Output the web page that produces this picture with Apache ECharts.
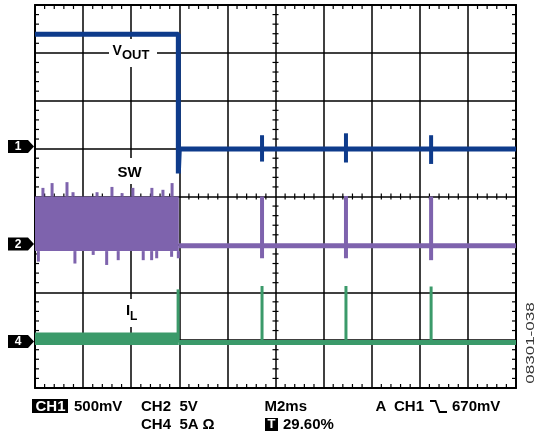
<!DOCTYPE html>
<html><head><meta charset="utf-8">
<script src="https://cdn.jsdelivr.net/npm/echarts@6/dist/echarts.min.js"></script>
<style>html,body{margin:0;padding:0;background:#fff}#c{width:537px;height:442px}</style>
</head><body><div id="c"></div>
<script>
// Horizontal: time in ms (M2ms -> 2 ms/div, 10 divisions). Vertical: screen divisions (8).
const xRange = [0, 20];
const xStep = 2;
const yRange = [0, 8];
const yStep = 1;
const minorPerDiv = 5;

// CH1 : VOUT  [ms, div]
const voutLine = [[0, 7.39], [5.96, 7.39], [5.96, 4.48], [6.00, 4.99], [20, 4.99]];
const voutSpikes = [[9.44, 4.73, 5.28], [12.93, 4.71, 5.32], [16.47, 4.68, 5.28]];

// CH2 : SW
const swBand = [[0, 5.98, 2.86, 4.00]];            // [tStart, tEnd, low, high] switching envelope
const swLine = [[5.98, 2.97], [20, 2.97]];
const swSpikesUp = [[0.33, 4.18], [0.71, 4.28], [1.33, 4.30], [1.58, 4.09], [2.58, 4.09], [3.20, 4.20],
                    [3.62, 4.07], [4.07, 4.18], [4.86, 4.18], [5.32, 4.14], [5.70, 4.28]];
const swSpikesDown = [[0.14, 2.64], [1.66, 2.60], [2.42, 2.78], [2.98, 2.57], [3.46, 2.67], [4.50, 2.67],
                      [4.85, 2.67], [5.06, 2.71], [5.68, 2.74], [5.96, 2.71]];
const swPulses = [[9.44, 2.71, 4.00], [12.93, 2.71, 4.01], [16.47, 2.67, 4.00]];

// CH4 : IL
const ilBand = [[0, 5.96, 0.90, 1.16]];
const ilLine = [[5.96, 0.95], [20, 0.95]];
const ilSpikes = [[5.95, 0.95, 2.06], [9.44, 0.95, 2.13], [12.93, 0.95, 2.13], [16.47, 0.95, 2.12]];

const C_VOUT = '#0e3b8b', C_SW = '#7e63ad', C_IL = '#3b9a6a', INK = '#000';
const FONT = '"Liberation Sans", Arial, sans-serif';

// graticule minor tick positions derived from the axis ranges: [0 = along x, 1 = along y, value]
const minorTicks = [];
(function () {
  const nx = (xRange[1] - xRange[0]) / xStep * minorPerDiv;
  for (let i = 1; i < nx; i++) if (i % minorPerDiv) minorTicks.push([0, xRange[0] + i * xStep / minorPerDiv]);
  const ny = (yRange[1] - yRange[0]) / yStep * minorPerDiv;
  for (let i = 1; i < ny; i++) if (i % minorPerDiv) minorTicks.push([1, yRange[0] + i * yStep / minorPerDiv]);
})();
const xMid = (xRange[0] + xRange[1]) / 2, yMid = (yRange[0] + yRange[1]) / 2;

function tickRender(params, api) {
  const along = api.value(0), v = api.value(1);
  const st = { stroke: INK, lineWidth: 1.2 };
  const L = 4, C = 3;
  if (along === 0) {
    const b = api.coord([v, yRange[0]]), t = api.coord([v, yRange[1]]), m = api.coord([v, yMid]);
    return { type: 'group', children: [
      { type: 'line', shape: { x1: b[0], y1: b[1], x2: b[0], y2: b[1] - L }, style: st },
      { type: 'line', shape: { x1: t[0], y1: t[1], x2: t[0], y2: t[1] + L }, style: st },
      { type: 'line', shape: { x1: m[0], y1: m[1] - C, x2: m[0], y2: m[1] + C }, style: st }
    ] };
  }
  const l = api.coord([xRange[0], v]), r = api.coord([xRange[1], v]), m = api.coord([xMid, v]);
  return { type: 'group', children: [
    { type: 'line', shape: { x1: l[0], y1: l[1], x2: l[0] + L, y2: l[1] }, style: st },
    { type: 'line', shape: { x1: r[0], y1: r[1], x2: r[0] - L, y2: r[1] }, style: st },
    { type: 'line', shape: { x1: m[0] - C, y1: m[1], x2: m[0] + C, y2: m[1] }, style: st }
  ] };
}

function bandRender(color) {
  return function (params, api) {
    const p0 = api.coord([api.value(0), api.value(3)]);
    const p1 = api.coord([api.value(1), api.value(2)]);
    return { type: 'rect', shape: { x: p0[0], y: p0[1], width: p1[0] - p0[0], height: p1[1] - p0[1] }, style: { fill: color } };
  };
}
function spikeRender(w, color) {
  return function (params, api) {
    const t = api.value(0);
    const a = api.coord([t, api.value(1)]);
    const b = api.coord([t, api.value(2)]);
    return { type: 'rect', shape: { x: a[0] - w / 2, y: Math.min(a[1], b[1]), width: w, height: Math.abs(b[1] - a[1]) }, style: { fill: color } };
  };
}
function axisCommon(showLine, split) {
  return {
    axisLine: { show: showLine, onZero: false, lineStyle: { color: INK, width: 2 } },
    axisTick: { show: false },
    axisLabel: { show: false },
    splitLine: { show: split, lineStyle: { color: INK, width: 1.5 } }
  };
}

const GL = 35, GT = 5, GW = 481, GH = 383;

function txt(x, y, s, size, opts) {
  opts = opts || {};
  return { type: 'text', x: x, y: y, z: 100,
    style: { text: s, fill: opts.fill || INK, font: (opts.weight || 'bold') + ' ' + size + 'px ' + FONT,
      align: opts.align || 'left', textAlign: opts.align || 'left', verticalAlign: 'middle', textVerticalAlign: 'middle' } };
}
function rect(x, y, w, h, fill) {
  return { type: 'rect', z: 99, shape: { x: x, y: y, width: w, height: h }, style: { fill: fill } };
}
function marker(cy, label) {
  return [
    { type: 'polygon', z: 100, shape: { points: [[8, cy - 6.5], [28, cy - 6.5], [34, cy], [28, cy + 6.5], [8, cy + 6.5]] }, style: { fill: INK } },
    txt(18, cy + 0.5, label, 12, { fill: '#fff', align: 'center' })
  ];
}

const graphics = [].concat(
  marker(146.5, '1'), marker(244, '2'), marker(341.5, '4'),
  // VOUT label
  [rect(109, 39, 48, 28, '#fff'), txt(112.5, 51, 'V', 14), txt(122, 55.5, 'OUT', 13)],
  // SW label
  [rect(112, 158, 38, 26, '#fff'), txt(117.5, 172.5, 'SW', 15)],
  // IL label
  [rect(121, 299, 22, 28, '#fff'), txt(126, 311, 'I', 15), txt(130, 317, 'L', 12)],
  // bottom status lines
  [rect(32, 399, 36, 14, INK), txt(35.5, 406.5, 'CH1', 15, { fill: '#fff' }),
   txt(74, 406.5, '500mV', 15),
   txt(141, 406.5, 'CH2', 15), txt(179.5, 406.5, '5V', 15),
   txt(264.5, 406.5, 'M2ms', 15),
   txt(375.5, 406.5, 'A', 15), txt(394, 406.5, 'CH1', 15),
   { type: 'polyline', z: 100, shape: { points: [[430, 401], [435.5, 401], [439.5, 412], [447, 412]] }, style: { stroke: INK, lineWidth: 1.8, fill: null } },
   txt(452, 406.5, '670mV', 15),
   txt(141, 424.5, 'CH4', 15), txt(179.5, 424.5, '5A', 15), txt(202.5, 424.5, 'Ω', 15),
   rect(265, 418, 13, 13, INK), txt(271.5, 424.8, 'T', 13, { fill: '#fff', align: 'center' }),
   txt(283, 424.5, '29.60%', 15)],
  // figure id, rotated, drawn stretched along its reading direction
  [{ type: 'text', x: 531, y: 343, rotation: Math.PI / 2, scaleX: 1.7, scaleY: 1, z: 100,
     style: { text: '08301-038', fill: '#333', font: 'normal 10px ' + FONT, align: 'center', textAlign: 'center', verticalAlign: 'middle', textVerticalAlign: 'middle' } }]
);

const chart = echarts.init(document.getElementById('c'), null, { renderer: 'canvas', width: 537, height: 442 });
chart.setOption({
  animation: false,
  backgroundColor: '#fff',
  grid: { left: GL, top: GT, width: GW, height: GH },
  xAxis: [
    Object.assign({ type: 'value', min: xRange[0], max: xRange[1], interval: xStep, position: 'bottom' }, axisCommon(true, true)),
    Object.assign({ type: 'value', min: xRange[0], max: xRange[1], interval: xStep, position: 'top' }, axisCommon(true, false))
  ],
  yAxis: [
    Object.assign({ type: 'value', min: yRange[0], max: yRange[1], interval: yStep, position: 'left' }, axisCommon(true, true)),
    Object.assign({ type: 'value', min: yRange[0], max: yRange[1], interval: yStep, position: 'right' }, axisCommon(true, false))
  ],
  series: [
    { type: 'custom', name: 'graticule ticks', renderItem: tickRender, data: minorTicks, encode: { x: -1, y: -1 }, clip: false, z: 2, silent: true },

    { type: 'custom', name: 'IL band', renderItem: bandRender(C_IL), data: ilBand, encode: { x: [0, 1], y: [2, 3] }, clip: true, z: 3 },
    { type: 'line', name: 'IL', data: ilLine, showSymbol: false, lineStyle: { color: C_IL, width: 5 }, z: 3 },
    { type: 'custom', name: 'IL spikes', renderItem: spikeRender(3, C_IL), data: ilSpikes, encode: { x: 0, y: [1, 2] }, clip: true, z: 3 },

    { type: 'custom', name: 'SW band', renderItem: bandRender(C_SW), data: swBand, encode: { x: [0, 1], y: [2, 3] }, clip: true, z: 4 },
    { type: 'custom', name: 'SW up', renderItem: spikeRender(3, C_SW), data: swSpikesUp.map(d => [d[0], swBand[0][3], d[1]]), encode: { x: 0, y: [1, 2] }, clip: true, z: 4 },
    { type: 'custom', name: 'SW down', renderItem: spikeRender(3, C_SW), data: swSpikesDown.map(d => [d[0], swBand[0][2], d[1]]), encode: { x: 0, y: [1, 2] }, clip: true, z: 4 },
    { type: 'line', name: 'SW', data: swLine, showSymbol: false, lineStyle: { color: C_SW, width: 5 }, z: 4 },
    { type: 'custom', name: 'SW pulses', renderItem: spikeRender(4, C_SW), data: swPulses, encode: { x: 0, y: [1, 2] }, clip: true, z: 4 },

    { type: 'line', name: 'VOUT', data: voutLine, showSymbol: false, lineStyle: { color: C_VOUT, width: 5 }, z: 5 },
    { type: 'custom', name: 'VOUT spikes', renderItem: spikeRender(4, C_VOUT), data: voutSpikes, encode: { x: 0, y: [1, 2] }, clip: true, z: 5 }
  ],
  graphic: graphics
});
</script></body></html>
